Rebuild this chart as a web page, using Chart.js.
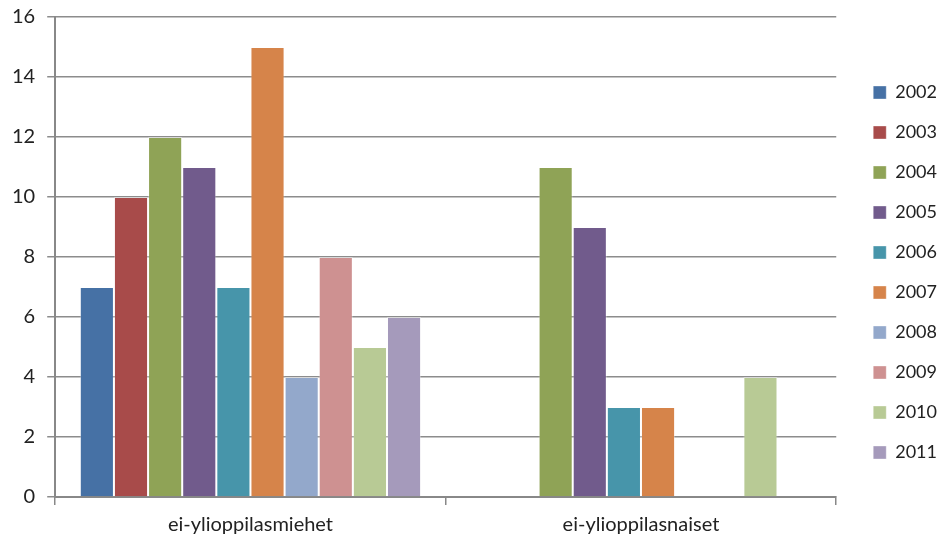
<!DOCTYPE html>
<html>
<head>
<meta charset="utf-8">
<script src="https://cdn.jsdelivr.net/npm/chart.js@4.4.1/dist/chart.umd.min.js"></script>
<style>
  html, body { margin: 0; padding: 0; background: #fff; }
  #wrap { width: 939px; height: 538px; position: relative; }
</style>
</head>
<body>
<div id="wrap"><canvas id="bar-chart"></canvas></div>
<script>
// Categories and yearly values
const categories = ["ei-ylioppilasmiehet", "ei-ylioppilasnaiset"];
const years = ["2002", "2003", "2004", "2005", "2006", "2007", "2008", "2009", "2010", "2011"];
const values2002 = [7, 0];
const values2003 = [10, 0];
const values2004 = [12, 11];
const values2005 = [11, 9];
const values2006 = [7, 3];
const values2007 = [15, 3];
const values2008 = [4, 0];
const values2009 = [8, 0];
const values2010 = [5, 4];
const values2011 = [6, 0];
const yTicks = [0, 2, 4, 6, 8, 10, 12, 14, 16];

const seriesValues = [values2002, values2003, values2004, values2005, values2006,
    values2007, values2008, values2009, values2010, values2011];
const colors = ["#4671a5", "#a84b4a", "#8fa356", "#715b8c", "#4795aa",
    "#d6844a", "#93a8cb", "#ce9191", "#b8ca95", "#a59abb"];

document.addEventListener("DOMContentLoaded", function () {
    const datasets = years.map(function (y, i) {
        return {
            label: y,
            data: seriesValues[i],
            backgroundColor: colors[i],
            borderColor: "rgba(255,255,255,0.35)",
            borderWidth: 1,
            categoryPercentage: 0.874,
            barPercentage: 1.0
        };
    });

    // keep a gap between the plot and the legend column
    const legendShift = {
        id: "legendShift",
        afterLayout: function (chart) {
            const lg = chart.legend;
            const want = chart.chartArea.right + 37 - lg.options.labels.padding;
            const dx = want - lg.left;
            lg.left += dx;
            lg.right += dx;
        }
    };

    const font = { family: "Lato, 'Open Sans', sans-serif", size: 20 };

    new Chart(document.getElementById("bar-chart"), {
        type: "bar",
        data: { labels: categories, datasets: datasets },
        options: {
            responsive: true,
            maintainAspectRatio: false,
            animation: false,
            layout: { padding: { top: 0, left: 0, right: 7, bottom: -7 } },
            plugins: {
                tooltip: { enabled: false },
                legend: {
                    position: "right",
                    maxWidth: 100,
                    labels: {
                        boxWidth: 13,
                        boxHeight: 13,
                        padding: 22,
                        color: "#222",
                        font: { family: font.family, size: 18 }
                    }
                }
            },
            scales: {
                x: {
                    grid: {
                        drawOnChartArea: false,
                        color: "#888",
                        lineWidth: 1.5,
                        tickLength: 8
                    },
                    border: { color: "#888", width: 2 },
                    ticks: { color: "#222", font: font, padding: 8 }
                },
                y: {
                    min: 0,
                    max: 16,
                    afterBuildTicks: function (axis) {
                        axis.ticks = yTicks.map(function (v) { return { value: v }; });
                    },
                    // the top tick label may sit closer to the canvas edge
                    afterFit: function (axis) {
                        axis.paddingTop -= 7;
                    },
                    grid: {
                        color: "#8c8c8c",
                        lineWidth: 1.5,
                        tickLength: 8
                    },
                    border: { color: "#888", width: 2 },
                    ticks: { color: "#222", font: font, padding: 12 }
                }
            }
        },
        plugins: [legendShift]
    });
});
</script>
</body>
</html>
